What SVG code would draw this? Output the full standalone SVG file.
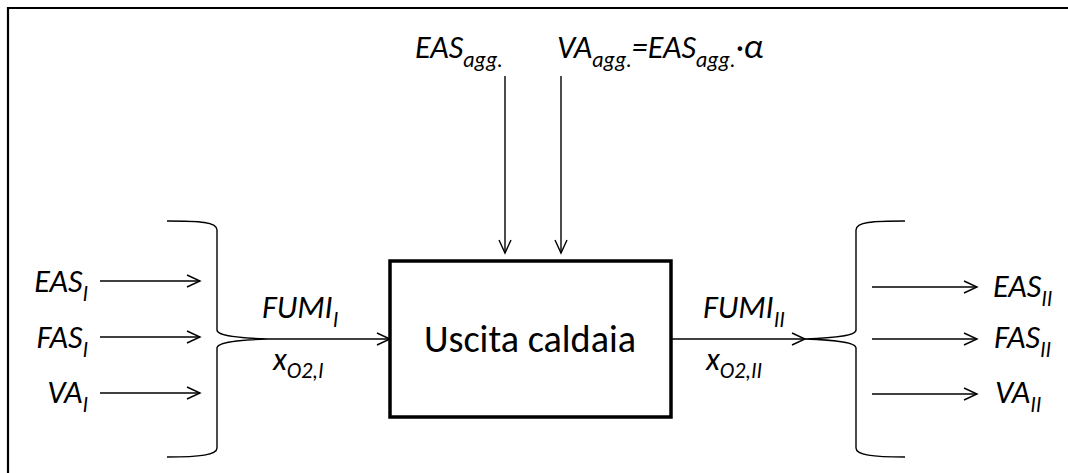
<svg xmlns="http://www.w3.org/2000/svg" width="1068" height="473" viewBox="0 0 1068 473">
<defs>
<style>
.ln{stroke:#000;stroke-width:1.4;fill:none}
.lbl{font-family:Carlito,Calibri,Lato,"Open Sans",sans-serif;font-style:italic;font-size:32px;fill:#000}
.sub{font-size:22px}
.box{fill:#fff;stroke:#000;stroke-width:3.5}
.main{font-family:Carlito,Calibri,Lato,"Open Sans",sans-serif;font-size:38px;fill:#000}
</style>
<marker id="ah" markerUnits="userSpaceOnUse" markerWidth="16" markerHeight="16" refX="13" refY="6" orient="auto" overflow="visible">
<path d="M0,0 L13,6 L0,12" fill="none" stroke="#000" stroke-width="1.4"/>
</marker>
</defs>
<rect width="1068" height="473" fill="#fff"/>
<g id="frame"><path d="M8,480 L8,8 L1075,8" fill="none" stroke="#000" stroke-width="2.2"/></g>
<g id="connectors">
<line class="ln" x1="100" y1="281" x2="200" y2="281" marker-end="url(#ah)"/>
<line class="ln" x1="100" y1="337" x2="200" y2="337" marker-end="url(#ah)"/>
<line class="ln" x1="100" y1="393" x2="200" y2="393" marker-end="url(#ah)"/>
<path class="ln" d="M167,221 C200,221 217,222 217,230 L217,330 C217,336 240,338 268,339 C240,340 217,342 217,348 L217,448 C217,455 200,457 167,457"/>
<line class="ln" x1="268" y1="339" x2="390" y2="339" marker-end="url(#ah)"/>
<line class="ln" x1="505" y1="76" x2="505" y2="253" marker-end="url(#ah)"/>
<line class="ln" x1="561" y1="76" x2="561" y2="253" marker-end="url(#ah)"/>
<line class="ln" x1="671" y1="339" x2="805" y2="339" marker-end="url(#ah)"/>
<path class="ln" d="M905,221 C872,221 856,222 856,230 L856,330 C856,336 833,338 805,339 C833,340 856,342 856,348 L856,448 C856,455 872,457 905,457"/>
<line class="ln" x1="872" y1="287" x2="977" y2="287" marker-end="url(#ah)"/>
<line class="ln" x1="872" y1="339" x2="977" y2="339" marker-end="url(#ah)"/>
<line class="ln" x1="872" y1="394" x2="977" y2="394" marker-end="url(#ah)"/>
</g>
<g id="boiler">
<rect class="box" x="390" y="261" width="281" height="156"/>
<text class="main" x="530" y="352" text-anchor="middle" textLength="212" lengthAdjust="spacingAndGlyphs">Uscita caldaia</text>
</g>
<g id="inputs">
<text class="lbl" x="88" y="292" text-anchor="end">EAS<tspan class="sub" dy="9">I</tspan></text>
<text class="lbl" x="88" y="348" text-anchor="end">FAS<tspan class="sub" dy="9">I</tspan></text>
<text class="lbl" x="88" y="403" text-anchor="end">VA<tspan class="sub" dy="9">I</tspan></text>
</g>
<g id="top-inputs">
<text class="lbl" x="415" y="58">EAS<tspan class="sub" dy="9">agg.</tspan></text>
<text class="lbl" x="557" y="58">VA<tspan class="sub" dy="9">agg.</tspan><tspan dy="-9">=EAS</tspan><tspan class="sub" dy="9">agg.</tspan><tspan dy="-9">·</tspan><tspan font-size="35">α</tspan></text>
</g>
<g id="flow-in">
<text class="lbl" x="262" y="318">FUMI<tspan class="sub" dy="9">I</tspan></text>
<text class="lbl" x="273" y="370">x<tspan class="sub" dy="8">O2,I</tspan></text>
</g>
<g id="flow-out">
<text class="lbl" x="703" y="318">FUMI<tspan class="sub" dy="9">II</tspan></text>
<text class="lbl" x="706" y="370">x<tspan class="sub" dy="8">O2,II</tspan></text>
</g>
<g id="outputs">
<text class="lbl" x="993" y="297">EAS<tspan class="sub" dy="9">II</tspan></text>
<text class="lbl" x="994" y="348">FAS<tspan class="sub" dy="9">II</tspan></text>
<text class="lbl" x="995" y="403">VA<tspan class="sub" dy="9">II</tspan></text>
</g>
</svg>
